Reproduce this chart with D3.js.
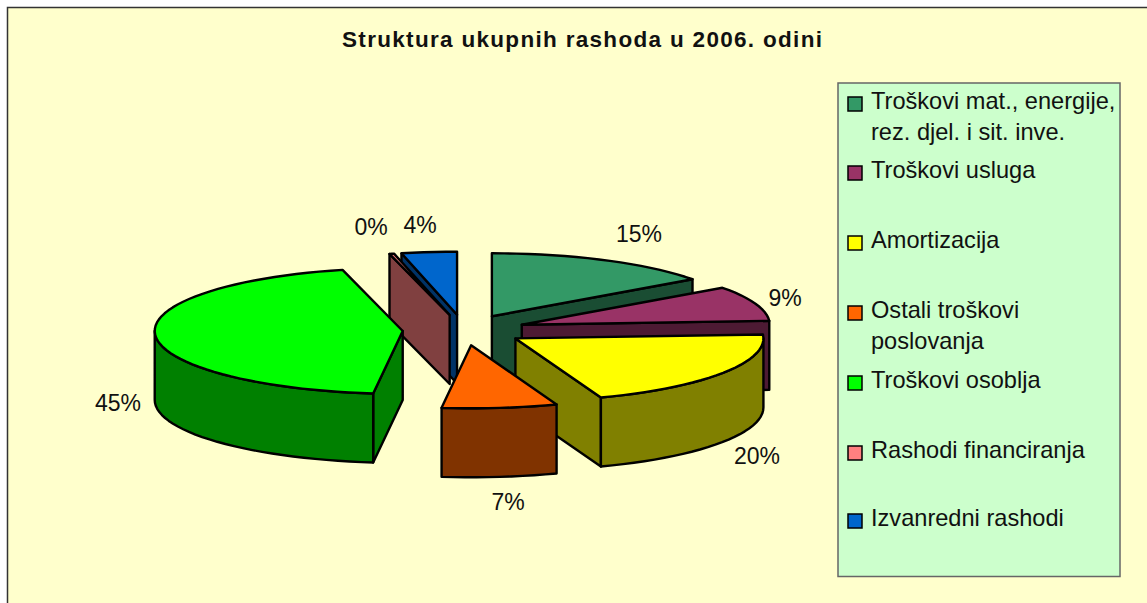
<!DOCTYPE html>
<html><head><meta charset="utf-8">
<script src="https://cdn.jsdelivr.net/npm/d3@7/dist/d3.min.js"></script>
<style>html,body{margin:0;padding:0;background:#fff}svg{display:block}text{font-family:"Liberation Sans",Arial,sans-serif;fill:#111}</style>
</head><body><svg id="c" width="1147" height="603"></svg>
<script>
const title = "Struktura ukupnih rashoda u 2006. odini";
const categories = ["Troškovi mat., energije,\nrez. djel. i sit. inve.","Troškovi usluga","Amortizacija","Ostali troškovi\nposlovanja","Troškovi osoblja","Rashodi financiranja","Izvanredni rashodi"];
const values = [15, 9, 20.4, 7.5, 44.2, 0.3, 3.6];
const percentLabels = ["15%","9%","20%","7%","45%","0%","4%"];
const colors = ["#339966","#993366","#ffff00","#ff6600","#00ff00","#ff8080","#0066cc"];
const legendY = [102,171,241,311,381,451,519];
const drawOrder = [6,5,0,1,2,3,4];

const W=1147,H=603;
const svg=d3.select("#c");
svg.append("rect").attr("x",0).attr("y",0).attr("width",W).attr("height",H).attr("fill","#fff");
svg.append("rect").attr("x",7.5).attr("y",7.5).attr("width",W+20).attr("height",H+20).attr("fill","#ffffcc").attr("stroke","#333").attr("stroke-width",1.5);
svg.append("text").attr("x",582).attr("y",47).attr("text-anchor","middle").attr("font-weight","bold").attr("font-size",22.5).attr("textLength",480).attr("lengthAdjust","spacing").text(title);

const rx=248, ry=63, depth=69, cx=464, cy=330, explodeX=61.4, explodeY=15.4;
const arcs=d3.pie().sort(null).value(d=>d)(values);
const half=c=>{const r=d3.rgb(c);return d3.rgb(r.r/2,r.g/2,r.b/2).formatHex();};
const line=d3.line();
const ink="#000";

function rim(c,a,dy=0){return [c[0]+rx*Math.sin(a),c[1]-ry*Math.cos(a)+dy];}
function sweep(c,a0,a1,dy=0){
  const n=Math.max(2,Math.ceil((a1-a0)/0.05)),out=[];
  for(let i=0;i<=n;i++)out.push(rim(c,a0+(a1-a0)*i/n,dy));
  return out;
}
const g=svg.append("g").attr("stroke",ink).attr("stroke-width",2.4).attr("stroke-linejoin","round");
drawOrder.forEach(i=>{
  const d=arcs[i],a0=d.startAngle,a1=d.endAngle,mid=(a0+a1)/2;
  const c=[cx+explodeX*Math.sin(mid),cy-explodeY*Math.cos(mid)];
  const side=half(colors[i]);
  const face=a=>{const p=rim(c,a);return [c,p,[p[0],p[1]+depth],[c[0],c[1]+depth]];};
  if(Math.sin(a1)>1e-6) g.append("path").attr("d",line(face(a1))+"Z").attr("fill",side);
  if(Math.sin(a0)<-1e-6) g.append("path").attr("d",line(face(a0))+"Z").attr("fill",side);
  const w0=Math.max(a0,Math.PI/2),w1=Math.min(a1,Math.PI*1.5);
  if(w1>w0){
    const top=sweep(c,w0,w1),bot=sweep(c,w0,w1,depth).reverse();
    g.append("path").attr("d",line(top.concat(bot))+"Z").attr("fill",side);
  }
  g.append("path").attr("d",line([c].concat(sweep(c,a0,a1)))+"Z").attr("fill",colors[i]);
});

const labelPos=[[639,242],[785,306],[757,464],[508,510],[118,411],[371,235],[420,233]];
svg.append("g").selectAll("text").data(percentLabels).join("text")
  .attr("x",(d,i)=>labelPos[i][0]).attr("y",(d,i)=>labelPos[i][1])
  .attr("text-anchor","middle").attr("font-size",23).text(d=>d);

svg.append("rect").attr("x",838).attr("y",83).attr("width",282).attr("height",493.5).attr("fill","#ccffcc").attr("stroke","#666").attr("stroke-width",1.5);
const lg=svg.append("g").selectAll("g").data(categories).join("g").attr("transform",(d,i)=>`translate(848,${legendY[i]})`);
lg.append("rect").attr("x",0).attr("y",-5).attr("width",14).attr("height",14).attr("fill",(d,i)=>colors[i]).attr("stroke","#000").attr("stroke-width",1.5);
lg.each(function(d){
  const s=d3.select(this);
  d.split("\n").forEach((t,j)=>{
    s.append("text").attr("x",23).attr("y",7+j*31).attr("font-size",23.6).text(t);
  });
});
</script></body></html>
